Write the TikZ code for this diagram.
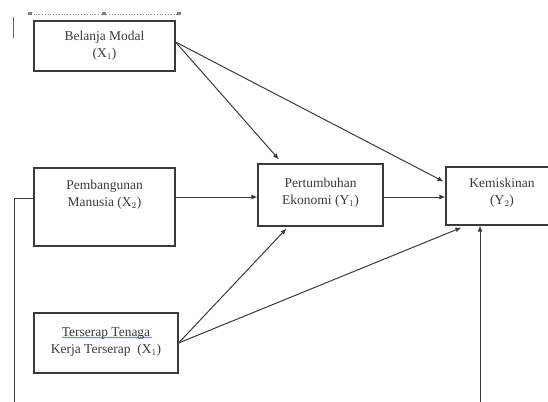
\documentclass[tikz,border=0pt]{standalone}
\usepackage{fontspec}
\setmainfont{Liberation Serif}
\usetikzlibrary{arrows.meta,calc,decorations.pathmorphing}
\definecolor{ink}{HTML}{3A3A3A}
\tikzset{
  box/.style={draw=ink, line width=1.1pt, rectangle, inner sep=0pt},
  txt/.style={align=center, text=ink, font=\fontsize{13.5}{17}\selectfont, inner sep=0pt},
  arr/.style={draw=ink, line width=1pt, -{Latex[length=6pt,width=5pt]}},
  ln/.style={draw=ink, line width=1pt},
}
\begin{document}
\begin{tikzpicture}[x=1pt,y=-1pt]
\useasboundingbox (0,0) rectangle (548,401);
\clip (0,0) rectangle (548,401);
% ruler artefacts
\draw[black!45, line width=0.8pt, dotted] (28,14) -- (181,14);
\foreach \xx in {30,104,179} \fill[black!50] (\xx-2,12.5) rectangle (\xx+2,15.5);
\draw[black!60, line width=1pt] (13,17) -- (13,38);
% boxes
\node[box, minimum width=141pt, minimum height=50pt] (x1) at (104.5,46) {};
\node[txt] (x1t) at (104.5,46) {Belanja Modal\\(X$_1$)};
\node[box, minimum width=141pt, minimum height=78pt] (x2) at (104.5,207) {};
\node[txt] (x2t) at (104.5,195) {Pembangunan\\Manusia (X$_2$)};
\node[box, minimum width=144pt, minimum height=60pt] (x3) at (106,343) {};
\node[txt] (x3t) at (106,342) {Terserap Tenaga\\Kerja Terserap\ \ (X$_1$)};
\node[box, minimum width=125pt, minimum height=62pt] (y1) at (320.5,195) {};
\node[txt] (y1t) at (320.5,193) {Pertumbuhan\\Ekonomi (Y$_1$)};
\node[box, minimum width=112pt, minimum height=58pt] (y2) at (502,196) {};
\node[txt] (y2t) at (502,193) {Kemiskinan\\(Y$_2$)};
% spell-check underline
\draw[blue!75, line width=0.5pt, decorate, decoration={snake, amplitude=0.6pt, segment length=3pt}] (62,337.5) -- (152,337.5);
% free ends
\coordinate (s1) at ($(x1.east)+(0,-4)$);
\coordinate (s3) at (x3.east);
\coordinate (lt) at (14,198);
\coordinate (lb) at (14,402);
\coordinate (rb) at (480,402);
% connectors
\draw[arr] (s1) -- ($(y1.north west)!0.17!(y1.north east)+(0,-4)$);
\draw[arr] (s1) -- ($(y2.north west)+(-2,15)$);
\draw[arr] (x2.east |- 0,197) -- (y1.west |- 0,197);
\draw[arr] (y1.east |- 0,197) -- (y2.west |- 0,197);
\draw[arr] (s3) -- ($(y1.south west)!0.23!(y1.south east)+(0,2)$);
\draw[arr] (s3) -- ($(y2.south west)+(16,2)$);
\draw[arr] (rb) -- (rb |- y2.south);
\draw[ln] (x2.west |- lt) -- (lt) -- (lb);
\end{tikzpicture}
\end{document}
